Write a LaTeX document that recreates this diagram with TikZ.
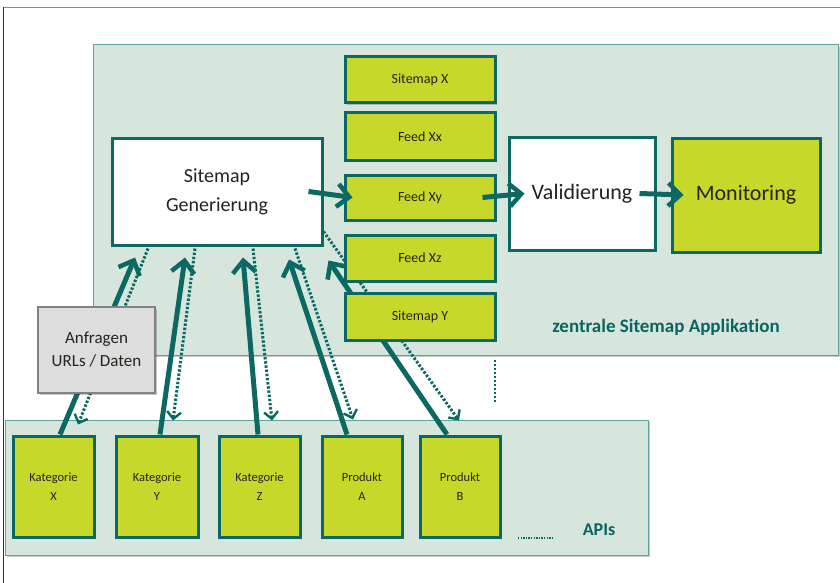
\documentclass[tikz,border=0pt]{standalone}
\usepackage{fontspec}
\setmainfont{Carlito}[Ligatures=NoCommon]
\usetikzlibrary{arrows.meta,shadows}

\definecolor{teal1}{RGB}{12,104,98}
\definecolor{lime1}{RGB}{200,216,42}
\definecolor{appfill}{RGB}{214,230,221}
\definecolor{appline}{RGB}{96,162,158}
\definecolor{greyfill}{RGB}{221,221,221}
\definecolor{greyline}{RGB}{130,130,130}
\definecolor{txt}{RGB}{36,36,30}
\definecolor{labtxt}{RGB}{10,100,96}

\pgfdeclarelayer{bg}
\pgfdeclarelayer{mid}
\pgfsetlayers{bg,mid,main}

\tikzset{
  shade/.style={drop shadow={shadow xshift=1.5pt,shadow yshift=-2pt,opacity=0.22,fill=black}},
  container/.style={draw=appline,line width=1pt,fill=appfill,shade},
  limebox/.style={draw=teal1,line width=3pt,fill=lime1,text=txt,shade,
    inner sep=0pt,align=center},
  whitebox/.style={draw=teal1,line width=3pt,fill=white,text=txt,shade,
    inner sep=0pt,align=center},
  greybox/.style={draw=greyline,line width=1.2pt,fill=greyfill,text=txt,shade,
    inner sep=0pt,align=center},
  feedbox/.style={limebox,minimum width=150pt,font=\fontsize{14}{16}\selectfont},
  apibox/.style={limebox,minimum height=101pt,
    font=\fontsize{12.5}{19}\selectfont},
  flow/.style={draw=teal1,line width=5pt,
    -{Straight Barb[length=12pt,width=23pt,line width=4.5pt]}},
  fetch/.style={draw=teal1,line width=5pt,
    -{Straight Barb[length=12pt,width=23pt,line width=4.5pt]}},
  reply/.style={draw=teal1,line width=3pt,dash pattern=on 2.4pt off 1.8pt,
    -{Straight Barb[length=7pt,width=14pt,line width=2.4pt]}},
  dotline/.style={draw=teal1,line width=2.4pt,dash pattern=on 2.2pt off 1.8pt},
  boldlabel/.style={text=labtxt,font=\bfseries\fontsize{19}{22}\selectfont,inner sep=0pt}
}

\begin{document}
\begin{tikzpicture}[x=1pt,y=-1pt]
  \useasboundingbox (0,0) rectangle (840,583);
  \begin{pgfonlayer}{bg}
    \fill[white] (0,0) rectangle (840,583);
    % outer frame lines
    \draw[line width=1.3pt,color=black!45] (3,7.5) -- (840,7.5);
    \draw[line width=1.2pt,color=black!80] (3.5,7) -- (3.5,583);
    % application area
    \node[container,minimum width=745pt,minimum height=310pt,inner sep=0pt] (app) at (465.5,200) {};
    % API area
    \node[container,minimum width=643pt,minimum height=135pt,inner sep=0pt] (apis) at (326.5,487.5) {};
  \end{pgfonlayer}

  % generated files
  \node[feedbox,minimum height=46pt] (sx)  at (420,80)    {Sitemap X};
  \node[feedbox,minimum height=47pt] (fxx) at (420,136.5) {Feed Xx};
  \node[feedbox,minimum height=45pt] (fxy) at (420,197.5) {Feed Xy};
  \node[feedbox,minimum height=46pt] (fxz) at (420,258)   {Feed Xz};
  \node[feedbox,minimum height=47pt] (sy)  at (420,316.5) {Sitemap Y};

  % processing steps
  \node[whitebox,minimum width=210pt,minimum height=107pt,
        font=\fontsize{20}{29}\selectfont] (gen) at (217,191.5) {Sitemap\\Generierung};
  \node[whitebox,minimum width=146pt,minimum height=113pt,
        font=\fontsize{22}{26}\selectfont] (val) at (582,193.5) {Validierung};
  \node[limebox,minimum width=148pt,minimum height=114pt,
        font=\fontsize{22}{26}\selectfont] (mon) at (746,195) {Monitoring};

  % request note
  \node[greybox,minimum width=117pt,minimum height=86pt,
        font=\fontsize{17}{23}\selectfont] (anf) at (96.5,350) {Anfragen\\URLs / Daten};

  % source APIs
  \node[apibox,minimum width=81pt] (kx) at (53.5,486.5) {Kategorie\\X};
  \node[apibox,minimum width=82pt] (ky) at (157,486.5)  {Kategorie\\Y};
  \node[apibox,minimum width=81pt] (kz) at (259.5,486.5){Kategorie\\Z};
  \node[apibox,minimum width=80pt] (pa) at (362,486.5)  {Produkt\\A};
  \node[apibox,minimum width=80pt] (pb) at (460,486.5)  {Produkt\\B};

  % area labels
  \node[boldlabel] (applabel) at (666,327) {zentrale Sitemap Applikation};
  \node[boldlabel,font=\bfseries\fontsize{18}{22}\selectfont] (apilabel) at (599,530) {APIs};

  \coordinate (more1) at (518,538);
  \coordinate (more2) at (553,538);
  \coordinate (gap1) at (495,360);
  \coordinate (gap2) at (495,403);

  \begin{pgfonlayer}{mid}
    % data delivered by the APIs
    \draw[fetch] ([xshift=6.5pt]kx.north) -- ([xshift=-82pt,yshift=-11pt]gen.south);
    \draw[fetch] ([xshift=3pt]ky.north)   -- ([xshift=-32pt,yshift=-11pt]gen.south);
    \draw[fetch] ([xshift=-1.5pt]kz.north)-- ([xshift=26pt,yshift=-11pt]gen.south);
    \draw[fetch] ([xshift=-15pt]pa.north) -- ([xshift=72pt,yshift=-13pt]gen.south);
    \draw[fetch] ([xshift=-13pt]pb.north) -- ([xshift=5pt,yshift=-14pt]gen.south east);
    % requests sent to the APIs
    \draw[reply] ([xshift=-69pt,yshift=-2pt]gen.south) -- ([xshift=24.5pt,yshift=10pt]kx.north);
    \draw[reply] ([xshift=-22pt,yshift=-2pt]gen.south) -- ([xshift=16pt,yshift=14pt]ky.north);
    \draw[reply] ([xshift=36pt,yshift=-2pt]gen.south)  -- ([xshift=12.5pt,yshift=14pt]kz.north);
    \draw[reply] ([xshift=78pt,yshift=-2pt]gen.south)  -- ([xshift=-9pt,yshift=15pt]pa.north);
    \draw[reply] ([yshift=15pt]gen.south east)         -- ([xshift=-1pt,yshift=14pt]pb.north);
    % continuation marks
    \draw[dotline] (gap1) -- (gap2);
    \draw[dotline,line width=1.6pt,dash pattern=on 1.4pt off 1.2pt] (more1) -- (more2);
  \end{pgfonlayer}

  % processing chain
  \draw[flow] ([xshift=-15pt]gen.east) -- ([xshift=9pt]fxy.west);
  \draw[flow] ([xshift=-14pt]fxy.east) -- ([xshift=17pt]val.west);
  \draw[flow] ([xshift=-17pt,yshift=0pt]val.east) -- ([xshift=13pt]mon.west);
\end{tikzpicture}
\end{document}
